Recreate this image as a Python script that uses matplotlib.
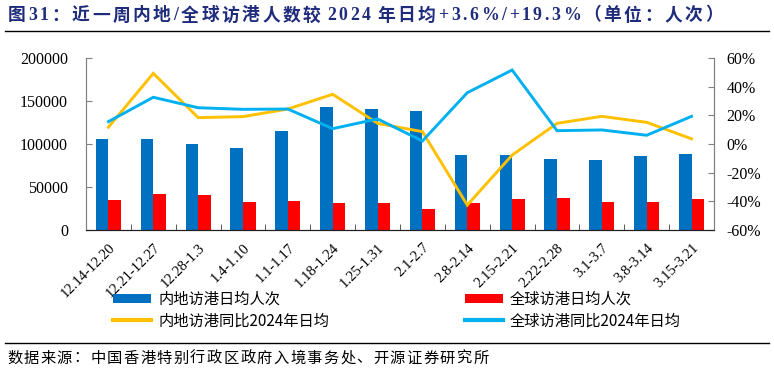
import matplotlib
matplotlib.use("Agg")
import matplotlib.pyplot as plt
import numpy as np
from matplotlib.ticker import FuncFormatter, FixedLocator

plt.rcParams['font.family'] = ['Liberation Serif', 'Noto Sans CJK SC', 'DejaVu Sans']
plt.rcParams['axes.unicode_minus'] = False

categories = ["12.14-12.20", "12.21-12.27", "12.28-1.3", "1.4-1.10", "1.1-1.17", "1.18-1.24",
              "1.25-1.31", "2.1-2.7", "2.8-2.14", "2.15-2.21", "2.22-2.28", "3.1-3.7",
              "3.8-3.14", "3.15-3.21"]
mainland_daily = [106000, 105500, 99700, 95000, 115000, 143000, 140300, 138000,
                  87600, 87200, 82200, 81800, 86400, 88000]
global_daily = [35000, 41900, 40300, 32600, 34100, 31000, 31000, 24000,
                31000, 36000, 36900, 32600, 32600, 35700]
mainland_yoy = [11.7, 49.3, 18.4, 19.1, 24.4, 34.7, 14.4, 8.6, -42.6, -7.7, 14.4, 19.3, 15.1, 3.6]
global_yoy = [15.6, 32.6, 25.3, 24.2, 24.4, 10.7, 17.5, 2.1, 35.8, 51.6, 9.3, 9.8, 6.1, 19.3]

labels = ["内地访港日均人次", "全球访港日均人次", "内地访港同比2024年日均", "全球访港同比2024年日均"]
title = "图31：近一周内地/全球访港人数较 2024 年日均+3.6%/+19.3%（单位：人次）"
source = "数据来源：中国香港特别行政区政府入境事务处、开源证券研究所"

c_blue, c_red, c_yellow, c_lblue = "#0070C0", "#FF0000", "#FFC000", "#00B0F0"

W, H = 774, 374
fig = plt.figure(figsize=(W / 100, H / 100), dpi=100)
ax = fig.add_axes([86 / W, 1 - 230 / H, (714 - 86) / W, (230 - 58) / H])
ax2 = ax.twinx()

x = np.arange(len(categories))
bw = 0.28
b1 = ax.bar(x - bw / 2, mainland_daily, width=bw, color=c_blue, zorder=2)
b2 = ax.bar(x + bw / 2, global_daily, width=bw, color=c_red, zorder=2)
l1, = ax2.plot(x, np.array(mainland_yoy) / 100, color=c_yellow, lw=2.1, solid_joinstyle='miter')
l2, = ax2.plot(x, np.array(global_yoy) / 100, color=c_lblue, lw=2.1, solid_joinstyle='miter')

ax.set_xlim(-0.5, len(categories) - 0.5)
ax.set_ylim(0, 200000)
ax.set_yticks(range(0, 200001, 50000))
ax.yaxis.set_major_formatter(FuncFormatter(lambda v, p: f"{int(v)}"))
ax2.set_ylim(-0.6, 0.6)
ax2.set_yticks(np.linspace(-0.6, 0.6, 7))
ax2.yaxis.set_major_formatter(FuncFormatter(lambda v, p: f"{round(v * 100):d}%"))

ax.set_xticks(x)
ax.set_xticklabels(categories, rotation=45, ha='right', rotation_mode='anchor', fontsize=10.5)
ax.xaxis.set_minor_locator(FixedLocator(np.arange(0.5, len(categories) - 1, 1.0)))
ax.tick_params(axis='x', which='major', length=0, pad=8)
ax.tick_params(axis='x', which='minor', length=4, direction='in', color='#404040')
ax.tick_params(axis='y', length=4, direction='in', labelsize=11.5, color='#808080', pad=13)
ax2.tick_params(axis='y', length=4, direction='in', labelsize=11.5, color='#808080', pad=9)

for a in (ax, ax2):
    a.spines['top'].set_visible(False)
    a.spines['left'].set_color('#808080')
    a.spines['right'].set_color('#808080')
    a.spines['bottom'].set_color('#202020')

lkw = dict(frameon=False, handlelength=2.5, handleheight=0.5,
           handletextpad=0.45, labelspacing=0.28, borderpad=0, borderaxespad=0,
           loc='upper left', prop={'family': ['Noto Sans CJK SC'], 'size': 11})
leg1 = fig.legend([b1, l1], [labels[0], labels[2]], bbox_to_anchor=(113 / W, 1 - 291 / H), **lkw)
leg2 = fig.legend([b2, l2], [labels[1], labels[3]], bbox_to_anchor=(465 / W, 1 - 291 / H), **lkw)
for lg in (leg1, leg2):
    for h in lg.legend_handles:
        if isinstance(h, matplotlib.lines.Line2D):
            h.set_linewidth(3)

fig.canvas.draw()
renderer = fig.canvas.get_renderer()


def spaced_text(x0, y0, s, spacing, **kw):
    xp = x0
    for ch in s:
        if ch == " ":
            xp += 4
            continue
        t = fig.text(xp / W, 1 - y0 / H, ch, va='center', ha='left', **kw)
        bb = t.get_window_extent(renderer)
        xp += bb.width + spacing


spaced_text(8, 16, title, 2.6, fontsize=12.8, fontweight='bold', color='#1F2C7C',
            family=['Liberation Serif', 'Noto Sans CJK SC'])
fig.add_artist(plt.Line2D([5 / W, 769 / W], [1 - 31 / H, 1 - 31 / H], color='black', lw=1))
fig.add_artist(plt.Line2D([5 / W, 769 / W], [1 - 343 / H, 1 - 343 / H], color='black', lw=1))
spaced_text(7, 358, source, 1.4, fontsize=11, family=['Noto Sans CJK SC'])

fig.savefig("out.png", dpi=100)
